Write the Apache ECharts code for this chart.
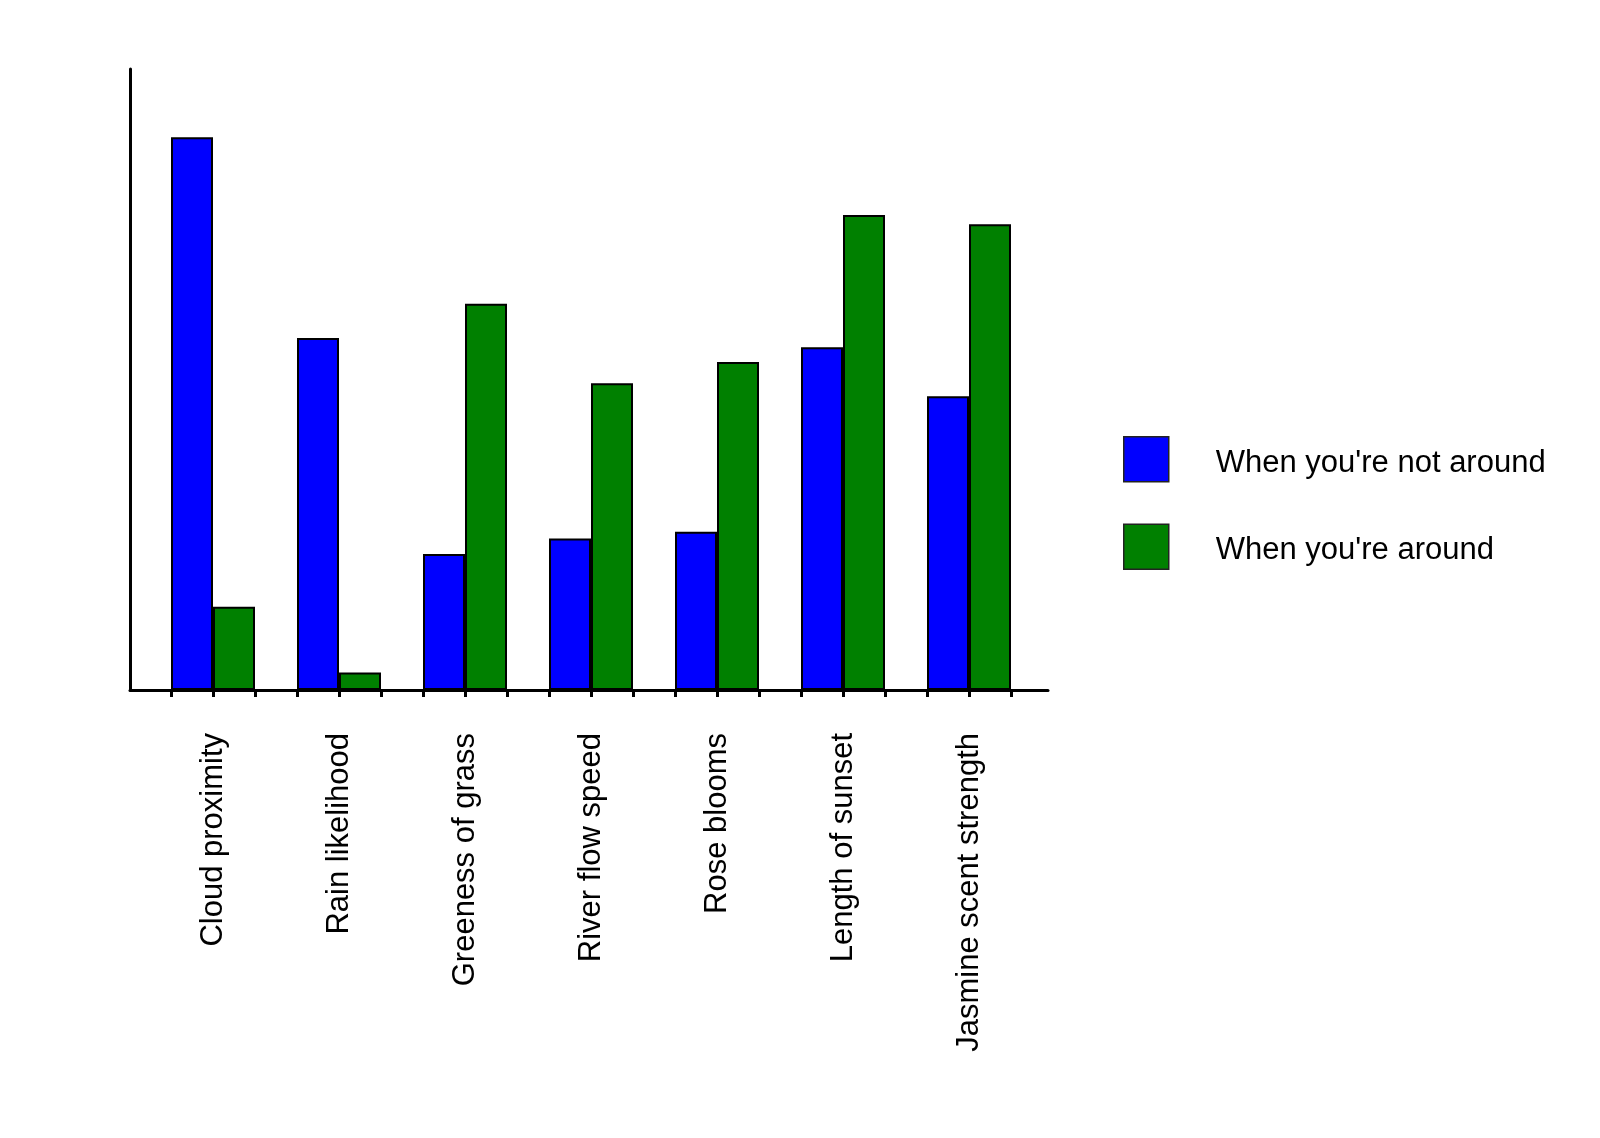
<!DOCTYPE html>
<html>
<head>
<meta charset="utf-8">
<script src="https://cdn.jsdelivr.net/npm/echarts@6/dist/echarts.min.js"></script>
<style>
  html, body { margin: 0; padding: 0; background: #fff; }
  #chart { width: 1600px; height: 1138px; }
</style>
</head>
<body>
<div id="chart"></div>
<script>
const categories = ['Cloud proximity', 'Rain likelihood', 'Greeness of grass', 'River flow speed', 'Rose blooms', 'Length of sunset', 'Jasmine scent strength'];
const notAround = [89.0, 56.7, 21.9, 24.4, 25.5, 55.2, 47.3];
const around = [13.4, 2.8, 62.2, 49.4, 52.8, 76.5, 75.0];
const seriesNames = ["When you're not around", "When you're around"];
const tickSlots = Array.from({ length: 21 }, (_, i) => String(i));

const FONT = "'Liberation Sans', Arial, sans-serif";

const chart = echarts.init(document.getElementById('chart'), null, { renderer: 'canvas' });

const option = {
  backgroundColor: '#ffffff',
  animation: false,
  grid: [
    { left: 150, top: 69, width: 882, height: 621 },
    { left: 130, top: 69, width: 918, height: 621 },
    { left: 171, top: 69, width: 840, height: 621 }
  ],
  xAxis: [
    {
      type: 'category', gridIndex: 0, data: categories, boundaryGap: true,
      axisLine: { show: false }, axisTick: { show: false },
      axisLabel: { rotate: 90, margin: 43, color: '#000', fontSize: 31, fontFamily: FONT }
    },
    {
      type: 'value', gridIndex: 1, min: 0, max: 1,
      axisLine: { show: true, lineStyle: { color: '#000', width: 3 } },
      axisTick: { show: false }, axisLabel: { show: false }, splitLine: { show: false }
    },
    {
      type: 'category', gridIndex: 2, data: tickSlots, boundaryGap: false,
      axisLine: { show: false },
      axisTick: { show: true, length: 7, lineStyle: { color: '#000', width: 3 } },
      axisLabel: { show: false }, splitLine: { show: false }
    }
  ],
  yAxis: [
    {
      type: 'value', gridIndex: 0, min: 0, max: 100,
      axisLine: { show: false }, axisTick: { show: false }, axisLabel: { show: false }, splitLine: { show: false }
    },
    {
      type: 'value', gridIndex: 1, min: 0, max: 1,
      axisLine: { show: true, lineStyle: { color: '#000', width: 3 } },
      axisTick: { show: false }, axisLabel: { show: false }, splitLine: { show: false }
    },
    {
      type: 'value', gridIndex: 2, min: 0, max: 1, show: false
    }
  ],
  legend: {
    orient: 'vertical', left: 1123, top: 436, padding: 0,
    itemWidth: 45, itemHeight: 45, itemGap: 41,
    icon: 'rect',
    itemStyle: { borderColor: '#222', borderWidth: 1.5 },
    formatter: function (name) { return '{t|' + name + '}'; },
    textStyle: {
      color: '#000', fontSize: 31, fontFamily: FONT,
      rich: { t: { color: '#000', fontSize: 31, fontFamily: FONT, padding: [8, 0, 0, 42] } }
    },
    data: seriesNames
  },
  series: [
    {
      name: seriesNames[0], type: 'bar', xAxisIndex: 0, yAxisIndex: 0,
      data: notAround, barWidth: 42, barGap: '0%',
      itemStyle: { color: '#0000ff', borderColor: '#000', borderWidth: 2 }
    },
    {
      name: seriesNames[1], type: 'bar', xAxisIndex: 0, yAxisIndex: 0,
      data: around, barWidth: 42, barGap: '0%',
      itemStyle: { color: '#008000', borderColor: '#000', borderWidth: 2 }
    }
  ]
};

chart.setOption(option);
</script>
</body>
</html>
